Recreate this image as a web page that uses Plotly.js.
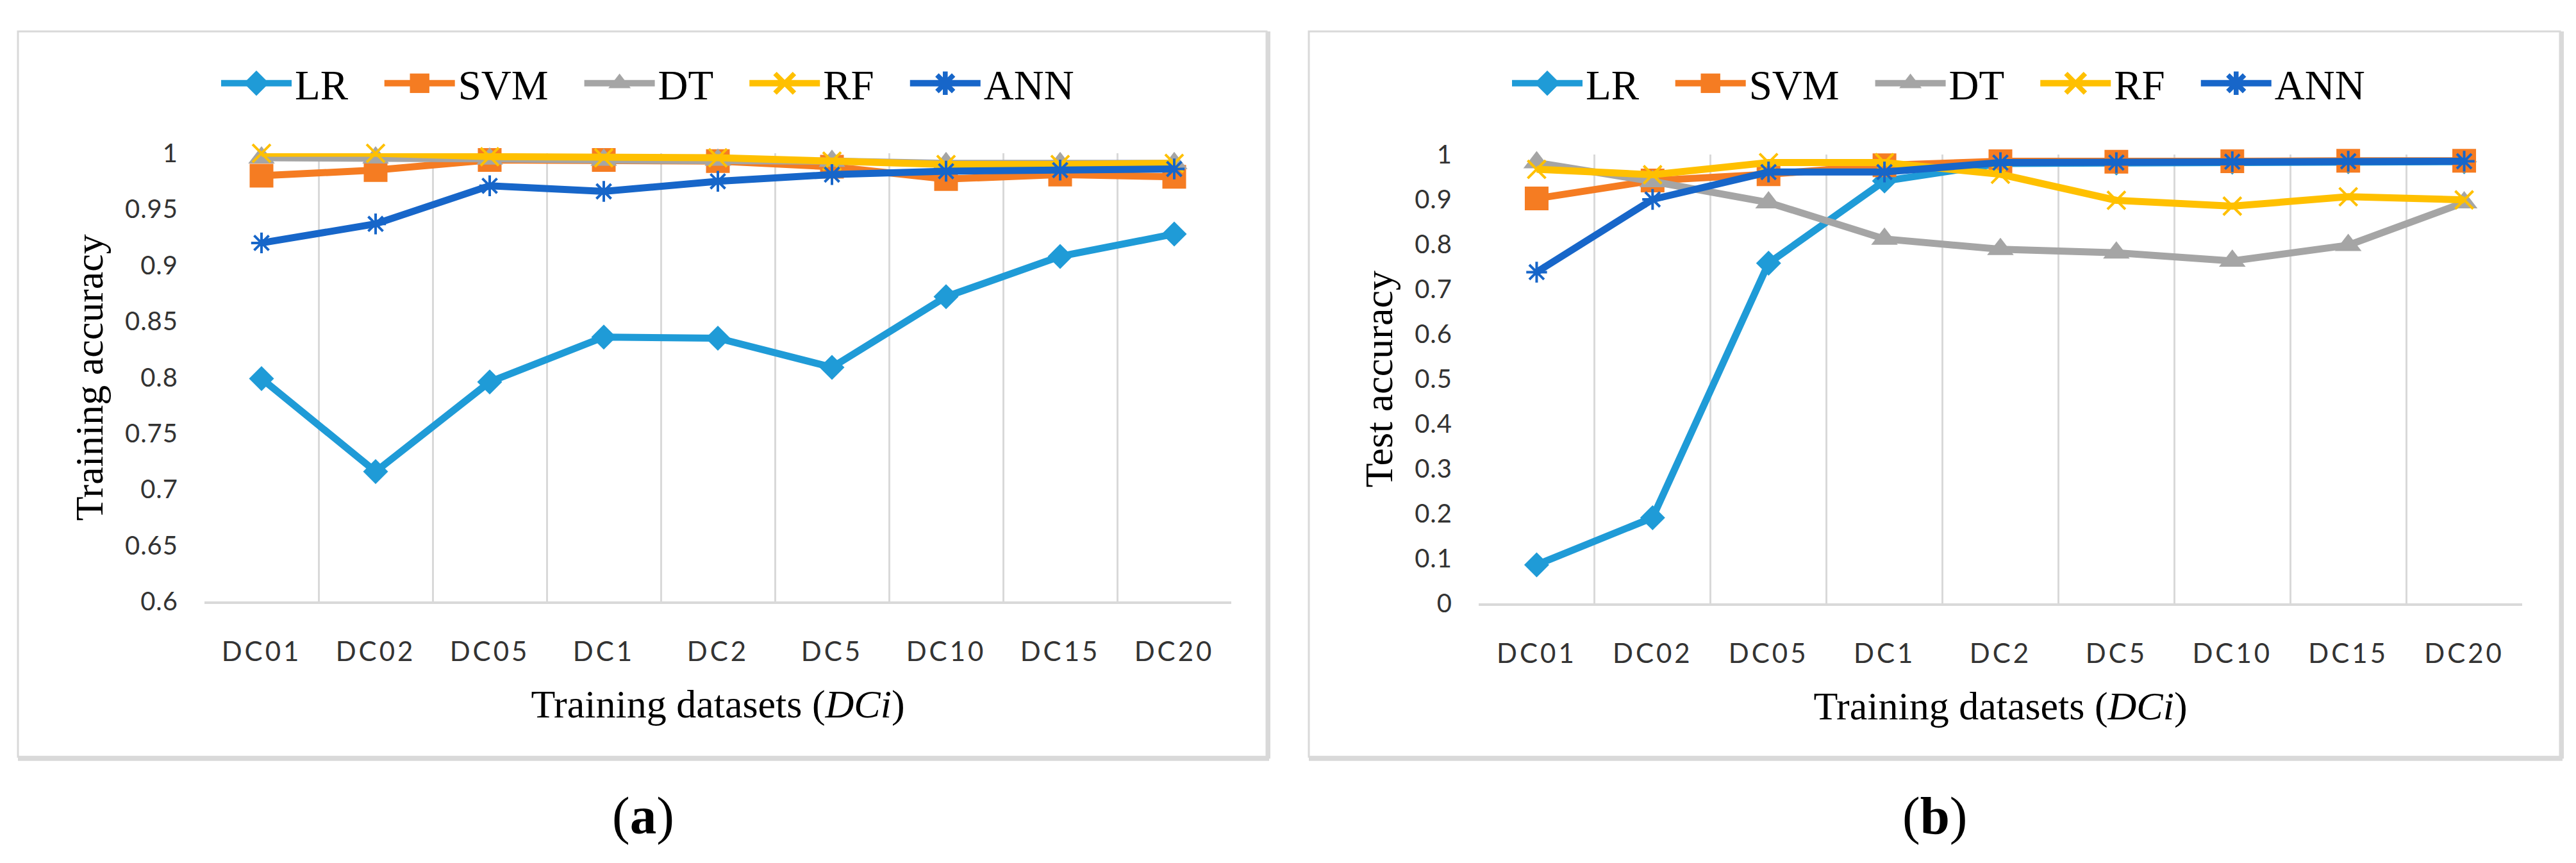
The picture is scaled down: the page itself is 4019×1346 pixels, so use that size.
<!DOCTYPE html>
<html>
<head>
<meta charset="utf-8">
<script src="https://cdn.plot.ly/plotly-3.0.1.min.js"></script>
<style>
html,body{margin:0;padding:0;background:#ffffff;}
#chart{width:4019px;height:1346px;}
.xtick text, .x2tick text{letter-spacing:4px;}
.ytick text, .y2tick text{letter-spacing:1px;}
</style>
</head>
<body>
<div id="chart"></div>
<script>
// ---- data ----
const categories = ['DC01','DC02','DC05','DC1','DC2','DC5','DC10','DC15','DC20'];
const seriesNames = ['LR','SVM','DT','RF','ANN'];

// (a) Training accuracy
const trainLR  = [0.799, 0.716, 0.796, 0.836, 0.835, 0.809, 0.872, 0.908, 0.928];
const trainSVM = [0.980, 0.985, 0.994, 0.994, 0.993, 0.988, 0.977, 0.981, 0.979];
const trainDT  = [0.996, 0.996, 0.995, 0.994, 0.994, 0.993, 0.991, 0.991, 0.991];
const trainRF  = [1.000, 1.000, 0.997, 0.996, 0.996, 0.993, 0.990, 0.990, 0.991];
const trainANN = [0.920, 0.937, 0.971, 0.966, 0.975, 0.981, 0.984, 0.985, 0.986];

// (b) Test accuracy
const testLR  = [0.086, 0.191, 0.758, 0.941, 0.980, 0.981, 0.983, 0.984, 0.984];
const testSVM = [0.902, 0.942, 0.956, 0.976, 0.985, 0.984, 0.985, 0.986, 0.986];
const testDT  = [0.982, 0.940, 0.893, 0.812, 0.789, 0.781, 0.763, 0.798, 0.893];
const testRF  = [0.967, 0.955, 0.982, 0.982, 0.956, 0.898, 0.885, 0.906, 0.899];
const testANN = [0.738, 0.900, 0.961, 0.961, 0.982, 0.982, 0.984, 0.985, 0.985];

const trainTickVals = [0.6, 0.65, 0.7, 0.75, 0.8, 0.85, 0.9, 0.95, 1];
const trainTickText = ['0.6','0.65','0.7','0.75','0.8','0.85','0.9','0.95','1'];
const testTickVals  = [0, 0.1, 0.2, 0.3, 0.4, 0.5, 0.6, 0.7, 0.8, 0.9, 1];
const testTickText  = ['0','0.1','0.2','0.3','0.4','0.5','0.6','0.7','0.8','0.9','1'];

const xTitleText = 'Training datasets (<i>DCi</i>)';
const yTitleTrain = 'Training accuracy';
const yTitleTest = 'Test accuracy';
const panelLabels = ['(<b>a</b>)', '(<b>b</b>)'];

// ---- styles ----
const styles = {
  LR:  {color:'#1f9bd7', symbol:'diamond',       size:30, open:false},
  SVM: {color:'#f57c22', symbol:'square',        size:37, open:false},
  DT:  {color:'#a5a5a5', symbol:'triangle-up',   size:36, open:false},
  RF:  {color:'#ffc000', symbol:'x-thin-open',   size:28, open:true},
  ANN: {color:'#1766c9', symbol:'asterisk-open', size:27, open:true}
};

const trainSets = [trainLR, trainSVM, trainDT, trainRF, trainANN];
const testSets  = [testLR, testSVM, testDT, testRF, testANN];

function makeTrace(name, values, xa, ya, legendId) {
  const s = styles[name];
  return {
    type:'scatter', mode:'lines+markers', name:name,
    x:categories, y:values, xaxis:xa, yaxis:ya, legend:legendId,
    cliponaxis:false,
    line:{color:s.color, width:11},
    marker:{symbol:s.symbol, size:s.size, color:s.color,
            line:{color:s.color, width: s.open ? 4 : 0}}
  };
}

const data = [];
seriesNames.forEach((n,i)=>data.push(makeTrace(n, trainSets[i], 'x', 'y', 'legend')));
seriesNames.forEach((n,i)=>data.push(makeTrace(n, testSets[i], 'x2', 'y2', 'legend2')));

const W = 4019, H = 1346;
const px = v => v / W;
const py = v => 1 - v / H;

const gridColor = '#d9d9d9';
const tickFont  = {family:'Lato, Carlito, "Liberation Sans", sans-serif', size:40, color:'#333333'};
const xTickFont = {family:'Lato, Carlito, "Liberation Sans", sans-serif', size:42, color:'#333333'};
const serif = 'Liberation Serif, "Times New Roman", serif';

function xAxis(domain, anchor) {
  return {
    domain:domain, anchor:anchor, type:'category', range:[-0.5, 8.5],
    tickson:'boundaries', ticks:'', showgrid:true, gridcolor:gridColor, gridwidth:3,
    showline:true, linecolor:gridColor, linewidth:4, zeroline:false,
    tickfont:xTickFont, ticklabelstandoff:38, automargin:true,
    title:{text:xTitleText, font:{family:serif, size:62, color:'#000'}, standoff:38}
  };
}
function yAxis(domain, anchor, range, tv, tt, title) {
  return {
    domain:domain, anchor:anchor, range:range, tickvals:tv, ticktext:tt,
    showgrid:false, zeroline:false, showline:false, ticks:'',
    tickfont:tickFont, ticklabelstandoff:40, automargin:true,
    title:{text:title, font:{family:serif, size:62, color:'#000'}, standoff:14}
  };
}

function boxShapes(x0, x1, y0, y1) {
  return [
    {type:'rect', xref:'paper', yref:'paper', x0:px(x0), x1:px(x1), y0:py(y1), y1:py(y0),
     line:{color:gridColor, width:3}, fillcolor:'rgba(0,0,0,0)', layer:'below'},
    {type:'line', xref:'paper', yref:'paper', x0:px(x0), x1:px(x1+4), y0:py(y1+3), y1:py(y1+3),
     line:{color:gridColor, width:7}},
    {type:'line', xref:'paper', yref:'paper', x0:px(x1+3), x1:px(x1+3), y0:py(y1+3), y1:py(y0),
     line:{color:gridColor, width:6}}
  ];
}

const legendBase = {
  orientation:'h', xanchor:'left', yanchor:'middle', y:py(109),
  font:{family:serif, size:65, color:'#000'}, itemwidth:110,
  bgcolor:'rgba(0,0,0,0)', traceorder:'normal', itemclick:false, itemdoubleclick:false
};

const layout = {
  width:W, height:H, margin:{l:0, r:0, t:0, b:0, pad:0},
  paper_bgcolor:'#ffffff', plot_bgcolor:'#ffffff', showlegend:true,
  xaxis:  xAxis([px(319), px(1921)], 'y'),
  yaxis:  yAxis([py(947), py(222)], 'x', [0.6, 1], trainTickVals, trainTickText, yTitleTrain),
  xaxis2: xAxis([px(2307), px(3935)], 'y2'),
  yaxis2: yAxis([py(950), py(224)], 'x2', [0, 1], testTickVals, testTickText, yTitleTest),
  legend:  Object.assign({}, legendBase, {x:px(340)}),
  legend2: Object.assign({}, legendBase, {x:px(2354)}),
  shapes: [].concat(boxShapes(28, 1976, 25, 1198), boxShapes(2042, 3994, 25, 1198)),
  annotations: [
    {xref:'paper', yref:'paper', x:px(1003), y:py(1293), text:panelLabels[0], showarrow:false,
     font:{family:serif, size:83, color:'#000'}, xanchor:'center', yanchor:'middle'},
    {xref:'paper', yref:'paper', x:px(3018), y:py(1293), text:panelLabels[1], showarrow:false,
     font:{family:serif, size:83, color:'#000'}, xanchor:'center', yanchor:'middle'}
  ]
};

const legendExtraGap = 46;

Plotly.newPlot('chart', data, layout, {staticPlot:true, displayModeBar:false}).then(function(gd){
  ['legend','legend2'].forEach(function(id){
    var g = gd.querySelector('g.' + id);
    if(!g) return;
    g.querySelectorAll('[clip-path]').forEach(function(el){ el.removeAttribute('clip-path'); });
    g.querySelectorAll('.legendlines path').forEach(function(p){ p.setAttribute('d','M5,0h110'); });
    g.querySelectorAll('.legendpoints path.scatterpts').forEach(function(p){
      p.setAttribute('transform','translate(60,0) scale(1.9)');
    });
    g.querySelectorAll('.traces').forEach(function(t, i){
      var tr = t.getAttribute('transform') || '';
      var m = tr.match(/translate\(\s*([-\d.e]+)[ ,]\s*([-\d.e]+)\s*\)/);
      if(m){ t.setAttribute('transform', 'translate(' + (parseFloat(m[1]) + i*legendExtraGap) + ',' + m[2] + ')'); }
    });
  });
});
</script>
</body>
</html>
